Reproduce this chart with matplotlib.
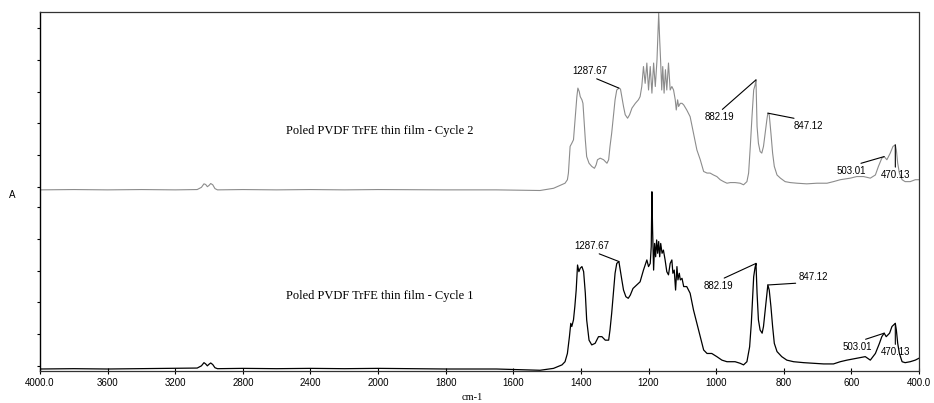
import numpy as np
import matplotlib
matplotlib.use("Agg")
import matplotlib.pyplot as plt

# --- FTIR absorbance spectra (wavenumber in cm-1, absorbance in arbitrary units) ---
CYCLE2_WN = [4000, 3800, 3600, 3400, 3200, 3070, 3045, 3030, 3020, 3010, 3000, 2990, 2978, 2965, 2950,
             2800, 2600, 2400, 2200, 2000, 1800, 1650, 1521, 1481, 1447, 1440, 1437, 1432, 1427, 1422,
             1419, 1415, 1412, 1409, 1405, 1402, 1397, 1394, 1390, 1387, 1383, 1376, 1368, 1360, 1355,
             1351, 1343, 1333, 1323, 1318, 1314, 1309, 1304, 1299, 1294, 1287.67, 1283, 1279, 1274, 1269,
             1262, 1256, 1249, 1239, 1230, 1225, 1220, 1215, 1210, 1205, 1200, 1195, 1190, 1185, 1180,
             1175, 1170, 1167, 1164, 1161, 1158, 1154, 1150, 1146, 1141, 1136, 1131, 1126, 1121, 1118,
             1114, 1111, 1106, 1101, 1096, 1087, 1077, 1067, 1057, 1047, 1037, 1027, 1018, 1008, 998,
             988, 978, 968, 958, 944, 929, 919, 909, 904, 899, 894, 889, 885, 882.19, 879, 875, 870, 865,
             860, 855, 850, 847.12, 843, 838, 833, 828, 820, 810, 796, 781, 761, 732, 702, 672, 653, 633,
             603, 584, 564, 544, 529, 520, 510, 503.01, 495, 485, 477, 470.13, 467, 463, 458, 450, 441,
             426, 411, 400]
CYCLE2_A = [0.00, 0.01, 0.00, 0.01, 0.00, 0.01, 0.08, 0.19, 0.17, 0.10, 0.14, 0.20, 0.16, 0.04, 0.00,
            0.01, 0.00, 0.01, 0.00, 0.01, 0.00, 0.00, -0.02, 0.05, 0.21, 0.32, 0.53, 1.37, 1.47, 1.58,
            2.00, 2.52, 2.94, 3.21, 3.10, 2.94, 2.84, 2.73, 2.10, 1.58, 1.05, 0.84, 0.74, 0.68, 0.79,
            0.95, 1.00, 0.95, 0.84, 0.95, 1.37, 1.79, 2.31, 2.84, 3.15, 3.21, 3.18, 2.94, 2.63, 2.37,
            2.26, 2.37, 2.58, 2.73, 2.84, 2.94, 3.26, 3.89, 3.36, 4.00, 3.15, 3.89, 3.05, 4.00, 3.26,
            4.10, 5.57, 4.73, 4.00, 3.15, 3.89, 3.05, 3.79, 3.15, 4.00, 3.15, 3.26, 3.15, 2.84, 2.52,
            2.84, 2.63, 2.73, 2.73, 2.68, 2.52, 2.31, 1.79, 1.26, 0.95, 0.58, 0.53, 0.53, 0.47, 0.42,
            0.32, 0.26, 0.21, 0.23, 0.23, 0.21, 0.16, 0.26, 0.53, 1.37, 2.31, 3.15, 3.30, 3.47, 2.00, 1.47, 1.21, 1.16,
            1.37, 1.79, 2.21, 2.42, 2.37, 1.79, 1.16, 0.74, 0.47, 0.37, 0.26, 0.23, 0.21, 0.19, 0.21, 0.21, 0.26, 0.32,
            0.37, 0.42, 0.42, 0.37, 0.47, 0.74, 1.00, 1.05, 0.95, 1.16, 1.37, 1.42, 1.26, 0.84, 0.53, 0.32, 0.26,
            0.26, 0.32, 0.32]

CYCLE1_WN = [4000, 3800, 3600, 3400, 3200, 3070, 3045, 3030, 3020, 3010, 3000, 2990, 2978, 2965, 2950,
             2800, 2600, 2400, 2200, 2000, 1800, 1650, 1521, 1481, 1456, 1447, 1440, 1434, 1430, 1427,
             1422, 1418, 1414, 1410, 1406, 1402, 1397, 1392, 1387, 1383, 1376, 1368, 1358, 1348, 1338,
             1328, 1318, 1314, 1309, 1304, 1299, 1294, 1287.67, 1283, 1279, 1274, 1267, 1260, 1254, 1246,
             1235, 1225, 1215, 1210, 1205, 1200, 1195, 1192, 1190, 1188, 1185, 1182, 1179, 1176, 1173,
             1170, 1167, 1164, 1160, 1156, 1151, 1146, 1141, 1136, 1131, 1128, 1124, 1120, 1116, 1113,
             1109, 1106, 1101, 1096, 1087, 1077, 1067, 1057, 1047, 1037, 1027, 1013, 998, 983, 968, 958,
             944, 929, 919, 909, 901, 896, 892, 889, 885, 882.19, 879, 875, 870, 864, 860, 855, 850, 847.12,
             843, 838, 833, 828, 820, 806, 791, 771, 741, 712, 682, 653, 633, 613, 584, 559, 544, 529, 517,
             510, 503.01, 497, 487, 480, 470.13, 467, 463, 458, 450, 441, 426, 411, 400]
CYCLE1_A = [0.00, 0.01, 0.00, 0.01, 0.02, 0.03, 0.10, 0.20, 0.16, 0.10, 0.15, 0.19, 0.14, 0.04, 0.01,
            0.02, 0.01, 0.02, 0.01, 0.02, 0.00, 0.00, -0.04, 0.02, 0.13, 0.23, 0.49, 1.02, 1.44, 1.34,
            1.55, 1.97, 2.49, 3.28, 3.07, 3.18, 3.23, 3.07, 2.39, 1.55, 0.91, 0.76, 0.81, 1.02, 1.02,
            0.91, 0.91, 1.23, 1.76, 2.39, 3.02, 3.33, 3.39, 3.07, 2.81, 2.49, 2.28, 2.23, 2.33, 2.54,
            2.65, 2.75, 3.12, 3.28, 3.44, 3.23, 3.33, 3.86, 5.59, 4.38, 3.12, 3.96, 3.54, 4.07, 3.65,
            4.02, 3.54, 3.96, 3.65, 3.75, 3.44, 3.07, 2.97, 3.33, 3.44, 3.02, 3.12, 2.49, 3.23, 2.81,
            3.02, 2.81, 2.86, 2.60, 2.60, 2.39, 1.86, 1.44, 1.02, 0.60, 0.49, 0.49, 0.39, 0.28, 0.23, 0.23,
            0.23, 0.18, 0.13, 0.23, 0.70, 1.44, 2.28, 2.91, 3.20, 3.33, 2.39, 1.55, 1.23, 1.13, 1.34, 1.86, 2.39, 2.65,
            2.49, 1.97, 1.34, 0.81, 0.55, 0.39, 0.28, 0.23, 0.20, 0.18, 0.16, 0.16, 0.23, 0.28, 0.34, 0.39, 0.28, 0.49, 0.81,
            1.02, 1.13, 1.02, 1.13, 1.34, 1.44, 1.23, 0.81, 0.49, 0.23, 0.20, 0.23, 0.28, 0.34]

PEAKS = [1287.67, 882.19, 847.12, 503.01, 470.13]
CYCLE2_OFFSET = 5.65

XTICKS = [4000, 3600, 3200, 2800, 2400, 2000, 1800, 1600, 1400, 1200, 1000, 800, 600, 400]
XTICK_LABELS = ["4000.0", "3600", "3200", "2800", "2400", "2000", "1800", "1600",
                "1400", "1200", "1000", "800", "600", "400.0"]


# Instrument-style axis: the region above 2000 cm-1 is compressed two-fold
def fwd(w):
    w = np.asarray(w, dtype=float)
    return np.where(w > 2000, 2000 + (w - 2000) / 2.0, w)


def inv(u):
    u = np.asarray(u, dtype=float)
    return np.where(u > 2000, 2000 + (u - 2000) * 2.0, u)


def value_at(wn, a, x):
    w = np.asarray(wn)[::-1]
    v = np.asarray(a)[::-1]
    return float(np.interp(x, w, v))


fig = plt.figure(figsize=(9.34, 4.03), dpi=100)
ax = fig.add_axes([40 / 934, 1 - 371 / 403, 879 / 934, 359 / 403])
ax.set_xscale("function", functions=(fwd, inv))
ax.set_xlim(4000, 400)
ax.set_ylim(-0.063, 11.26)

c2 = np.asarray(CYCLE2_A) + CYCLE2_OFFSET
ax.plot(CYCLE2_WN, c2, color="#8c8c8c", lw=0.8)
ax.plot(CYCLE1_WN, CYCLE1_A, color="black", lw=0.9)

# spines: solid left axis, dotted frame elsewhere
for side in ("top", "right", "bottom"):
    ax.spines[side].set_linestyle((0, (1, 1)))
    ax.spines[side].set_linewidth(0.9)
    ax.spines[side].set_color("#333333")
ax.spines["left"].set_linewidth(1.0)

ax.set_xticks(XTICKS)
ax.set_xticklabels(XTICK_LABELS, family="Liberation Sans", fontsize=7)
ax.xaxis.set_minor_locator(matplotlib.ticker.NullLocator())
ax.tick_params(axis="x", direction="inout", length=4, width=0.8, pad=3)

yt = [0.1 + k for k in range(6)] + [CYCLE2_OFFSET + 0.1 + k for k in range(6)]
ax.set_yticks(yt)
ax.set_yticklabels([])
ax.tick_params(axis="y", direction="out", length=2.5, width=0.8)

fig.text(12 / 934, 1 - 195 / 403, "A", family="Liberation Sans", fontsize=7, ha="center", va="center")
fig.text(472 / 934, 1 - 398 / 403, "cm-1", family="Liberation Serif", fontsize=7.5, ha="center", va="center")

ax.text(1994, CYCLE2_OFFSET + 1.86, "Poled PVDF TrFE thin film - Cycle 2",
        family="Liberation Serif", fontsize=9, ha="center", va="center")
ax.text(1994, 2.29, "Poled PVDF TrFE thin film - Cycle 1",
        family="Liberation Serif", fontsize=9, ha="center", va="center")

# peak labels: (text wavenumber, text y, vertical alignment, line anchor on text)
ann2 = {1287.67: (1373, 9.24, "bottom", (0.5, 0.0)),
        882.19: (991, 8.10, "top", (0.5, 1.0)),
        847.12: (728, 7.82, "top", (0.5, 1.0)),
        503.01: (600, 6.40, "top", (0.5, 1.0)),
        470.13: (470, 6.28, "top", (0.5, 1.0))}
ann1 = {1287.67: (1367, 3.72, "bottom", (0.5, 0.0)),
        882.19: (994, 2.78, "top", (0.5, 1.0)),
        847.12: (713, 2.74, "bottom", (0.5, 0.0)),
        503.01: (583, 0.85, "top", (0.5, 1.0)),
        470.13: (470, 0.69, "top", (0.5, 1.0))}

for pk in PEAKS:
    tx, ty, va, rp = ann2[pk]
    ax.annotate(f"{pk:.2f}", xy=(pk, value_at(CYCLE2_WN, c2, pk)), xytext=(tx, ty),
                ha="center", va=va, family="Liberation Sans", fontsize=7,
                arrowprops=dict(arrowstyle="-", lw=0.8, color="black", shrinkA=0, shrinkB=0, relpos=rp))
    tx, ty, va, rp = ann1[pk]
    ax.annotate(f"{pk:.2f}", xy=(pk, value_at(CYCLE1_WN, CYCLE1_A, pk)), xytext=(tx, ty),
                ha="center", va=va, family="Liberation Sans", fontsize=7,
                arrowprops=dict(arrowstyle="-", lw=0.8, color="black", shrinkA=0, shrinkB=0, relpos=rp))

fig.savefig("out.png", dpi=100)
